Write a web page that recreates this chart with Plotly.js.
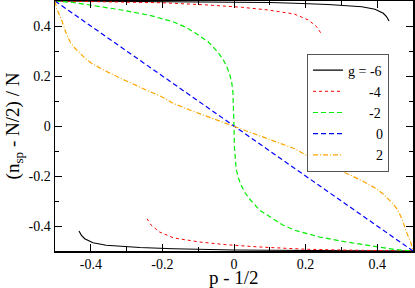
<!DOCTYPE html>
<html>
<head>
<meta charset="utf-8">
<script src="https://cdn.plot.ly/plotly-3.0.1.min.js"></script>
<style>html,body{margin:0;padding:0;background:#fff}#chart{width:415px;height:288px}</style>
</head>
<body>
<div id="chart"></div>
<script>
// g = -6 (two branches)
var gm6UpperX = [-0.5, -0.3, -0.1, 0.0, 0.1, 0.17, 0.263, 0.357, 0.394, 0.417, 0.426, 0.433];
var gm6UpperY = [0.5, 0.499, 0.497, 0.496, 0.494, 0.491, 0.486, 0.477, 0.467, 0.451, 0.438, 0.42];
var gm6LowerX = [-0.433, -0.426, -0.417, -0.394, -0.357, -0.263, -0.17, -0.1, 0.0, 0.1, 0.3, 0.5];
var gm6LowerY = [-0.42, -0.438, -0.451, -0.467, -0.477, -0.486, -0.491, -0.494, -0.496, -0.497, -0.499, -0.5];
// g = -4 (two branches)
var gm4UpperX = [-0.5, -0.4, -0.3, -0.2, -0.072, 0.021, 0.096, 0.168, 0.208, 0.231, 0.243];
var gm4UpperY = [0.5, 0.4985, 0.496, 0.493, 0.484, 0.475, 0.464, 0.448, 0.424, 0.397, 0.371];
var gm4LowerX = [-0.243, -0.231, -0.208, -0.168, -0.096, -0.021, 0.072, 0.2, 0.3, 0.4, 0.5];
var gm4LowerY = [-0.371, -0.397, -0.424, -0.448, -0.464, -0.475, -0.484, -0.493, -0.496, -0.4985, -0.5];
// g = -2
var gm2X = [-0.5, -0.45, -0.407, -0.36, -0.314, -0.239, -0.17, -0.135, -0.109, -0.072, -0.044, -0.03, -0.02, -0.012, -0.006, -0.003, -0.001, 0.0,
            0.001, 0.003, 0.006, 0.012, 0.02, 0.03, 0.044, 0.072, 0.109, 0.135, 0.17, 0.239, 0.314, 0.36, 0.407, 0.45, 0.5];
var gm2Y = [0.5, 0.494, 0.485, 0.475, 0.464, 0.444, 0.417, 0.395, 0.373, 0.337, 0.293, 0.265, 0.237, 0.207, 0.171, 0.135, 0.08, 0.0,
            -0.08, -0.135, -0.171, -0.207, -0.237, -0.265, -0.293, -0.337, -0.373, -0.395, -0.417, -0.444, -0.464, -0.475, -0.485, -0.494, -0.5];
// g = 0
var g0X = [-0.5, 0.0, 0.5];
var g0Y = [0.5, 0.0, -0.5];
// g = 2
var g2X = [-0.5, -0.495, -0.488, -0.481, -0.47, -0.458, -0.445, -0.43, -0.415, -0.398, -0.38, -0.36, -0.323, -0.281, -0.244, -0.202, -0.17, -0.12, -0.072, 0.0,
           0.072, 0.12, 0.17, 0.202, 0.244, 0.281, 0.323, 0.36, 0.38, 0.398, 0.415, 0.43, 0.445, 0.458, 0.47, 0.481, 0.488, 0.495, 0.5];
var g2Y = [0.5, 0.47, 0.445, 0.422, 0.375, 0.337, 0.312, 0.291, 0.27, 0.251, 0.236, 0.221, 0.195, 0.166, 0.143, 0.117, 0.091, 0.062, 0.037, 0.0,
           -0.037, -0.062, -0.091, -0.117, -0.143, -0.166, -0.195, -0.221, -0.236, -0.251, -0.27, -0.291, -0.312, -0.337, -0.375, -0.422, -0.445, -0.47, -0.5];

var NB = '\u00A0';
var legendNames = ['g = -6', NB.repeat(6) + '-4', NB.repeat(6) + '-2', NB.repeat(8) + '0', NB.repeat(8) + '2'];
var majorTicks = [-0.4, -0.2, 0, 0.2, 0.4];
var majorTickText = ['-0.4', '-0.2', '0', '0.2', '0.4'];
var minorTicks = [-0.3, -0.1, 0.1, 0.3];
var xTitle = 'p - 1/2';
var yTitle = '(n<sub>sp</sub> - N/2) / N';

var FONT = '"Liberation Serif", "Times New Roman", serif';

var traces = [
  {x: gm6UpperX, y: gm6UpperY, name: legendNames[0], legendgroup: 'a', line: {color: '#000000', width: 1.2}},
  {x: gm6LowerX, y: gm6LowerY, name: legendNames[0], legendgroup: 'a', showlegend: false, line: {color: '#000000', width: 1.2}},
  {x: gm4UpperX, y: gm4UpperY, name: legendNames[1], legendgroup: 'b', line: {color: '#ff0000', width: 1, dash: 'dot'}},
  {x: gm4LowerX, y: gm4LowerY, name: legendNames[1], legendgroup: 'b', showlegend: false, line: {color: '#ff0000', width: 1, dash: 'dot'}},
  {x: gm2X, y: gm2Y, name: legendNames[2], line: {color: '#00ee00', width: 1.2, dash: '5px,3px'}},
  {x: g0X, y: g0Y, name: legendNames[3], line: {color: '#0000ff', width: 1.2, dash: '5px,3px'}},
  {x: g2X, y: g2Y, name: legendNames[4], line: {color: '#ffa500', width: 1.2, dash: '5px,2px,1px,2px'}}
];
traces.forEach(function (t) { t.mode = 'lines'; t.type = 'scatter'; });

var axisCommon = {
  range: [-0.5, 0.5], showgrid: false, zeroline: false, showline: true, linecolor: '#000', linewidth: 1.5,
  mirror: 'allticks', ticks: 'inside', ticklen: 7, tickwidth: 1, tickcolor: '#000',
  tickmode: 'array', tickvals: majorTicks, ticktext: majorTickText,
  tickfont: {family: FONT, size: 14, color: '#000'},
  minor: {tickmode: 'array', tickvals: minorTicks, ticks: 'inside', ticklen: 4, tickwidth: 1, tickcolor: '#000'}
};

var layout = {
  width: 415, height: 288,
  margin: {l: 55, r: 2, t: 1, b: 37},
  paper_bgcolor: '#fff', plot_bgcolor: '#fff',
  font: {family: FONT, color: '#000'},
  showlegend: true,
  legend: {x: 0.933, xanchor: 'right', y: 0.79, yanchor: 'top', bgcolor: '#fff', bordercolor: '#555', borderwidth: 1,
           font: {family: FONT, size: 14, color: '#000'}, tracegroupgap: 0},
  xaxis: Object.assign({}, axisCommon),
  yaxis: Object.assign({}, axisCommon, {title: {text: yTitle, font: {family: FONT, size: 19, color: '#000'}, standoff: 4}}),
  annotations: [{
    text: xTitle, xref: 'paper', yref: 'paper', x: 0.5, y: -0.058, xanchor: 'center', yanchor: 'top',
    showarrow: false, borderpad: 0, font: {family: FONT, size: 19, color: '#000'}
  }]
};

Plotly.newPlot('chart', traces, layout, {displayModeBar: false, staticPlot: true});
</script>
</body>
</html>
